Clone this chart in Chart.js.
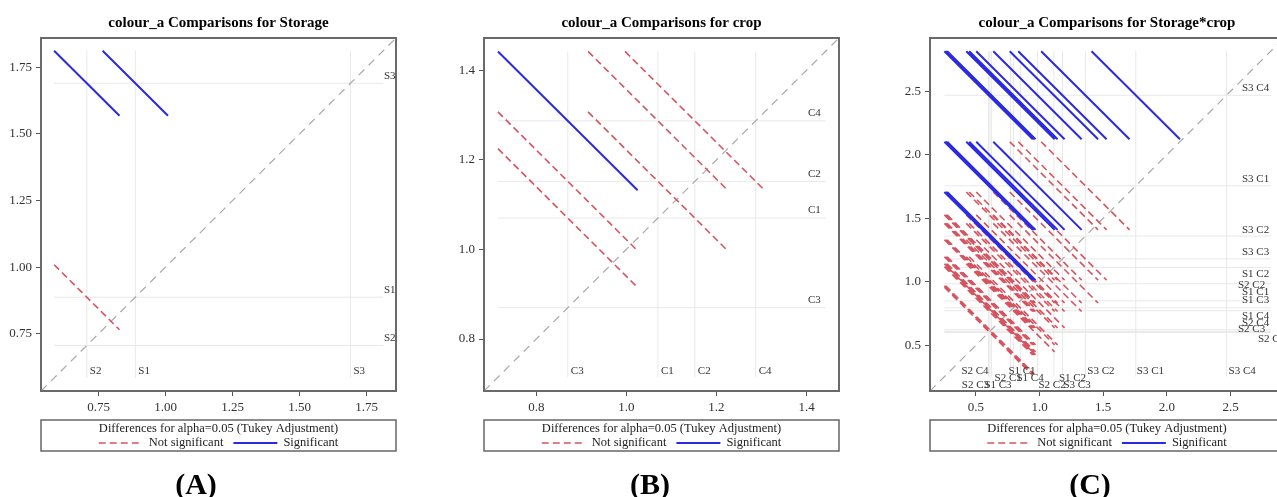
<!DOCTYPE html>
<html>
<head>
  <title>colour_a Comparisons</title>
  <script src="https://cdn.jsdelivr.net/npm/chart.js"></script>
  <style>
    body { margin: 0; width: 1277px; height: 497px; overflow: hidden; background: #fff; position: relative; }
    canvas { position: absolute; top: 0; }
    .cap { position: absolute; top: 467px; width: 100px; text-align: center; line-height: 32px;
           font: bold 30px "Liberation Serif", serif; color: #000; }
  </style>
</head>
<body>
  <canvas id="chartA" width="399" height="497" style="left:1px"></canvas>
  <canvas id="chartB" width="399" height="497" style="left:444px"></canvas>
  <canvas id="chartC" width="398" height="497" style="left:890px"></canvas>
  <div class="cap" style="left:146px">(A)</div>
  <div class="cap" style="left:600px">(B)</div>
  <div class="cap" style="left:1040px">(C)</div>

  <script>
    // Storage
    var storageLevels = ['S1', 'S2', 'S3'];
    var storageMeans = [0.887, 0.706, 1.690];
    var storageHalfWidth = 0.122;
    var storageAxis = [0.535, 1.86];
    var storageTicks = [0.75, 1.00, 1.25, 1.50, 1.75];

    // crop
    var cropLevels = ['C1', 'C2', 'C3', 'C4'];
    var cropMeans = [1.070, 1.152, 0.870, 1.287];
    var cropHalfWidth = 0.155;
    var cropAxis = [0.684, 1.472];
    var cropTicks = [0.8, 1.0, 1.2, 1.4];

    // Storage*crop
    var scLevels = ['S3 C4', 'S3 C1', 'S3 C2', 'S3 C3', 'S1 C2', 'S2 C2',
                    'S1 C1', 'S1 C3', 'S1 C4', 'S2 C4', 'S2 C3', 'S2 C1'];
    var scMeans = [2.469, 1.756, 1.360, 1.180, 1.113, 0.984,
                   0.850, 0.795, 0.772, 0.622, 0.610, 0.600];
    var scHalfWidth = 0.347;
    var scAxis = [0.14, 2.92];
    var scTicks = [0.5, 1.0, 1.5, 2.0, 2.5];

    // label placement for the crowded Storage*crop panel (pixel nudges)
    var scBottomDx = [2, 1, 2, 1, 5, 1, -12, -29, 6, -30, -28, 6];
    var scBottomRow = [0, 0, 0, 2, 1, 2, 0, 2, 1, 0, 2, 1];
    var scRightDx = [0, 0, 0, 0, 0, -4, 0, 0, 0, 0, -4, 16];
    var scRightDy = [-7, -7, -6, -7, 7, 1, -9, -8, 5, -7, -2, 7];

    var SERIF = '"Liberation Serif", "Times New Roman", serif';
    var RED = '#d4545f';
    var BLUE = '#2a2ae0';

    // one segment per pair, centred on (lower mean, higher mean), slope -1
    function pairSegments(means, h, significant) {
      var pts = [];
      for (var i = 0; i < means.length; i++) {
        for (var j = i + 1; j < means.length; j++) {
          var lo = Math.min(means[i], means[j]);
          var hi = Math.max(means[i], means[j]);
          var sig = (hi - lo) > 2 * h; // segment misses the diagonal
          if (sig !== significant) continue;
          pts.push({x: lo - h, y: hi + h}, {x: lo + h, y: hi - h}, {x: lo, y: null});
        }
      }
      return pts;
    }

    function referenceLines(means, h) {
      var lo = Math.min.apply(null, means) - h;
      var hi = Math.max.apply(null, means) + h;
      var pts = [];
      means.forEach(function(m) {
        pts.push({x: m, y: lo}, {x: m, y: hi}, {x: m, y: null});
        pts.push({x: lo, y: m}, {x: hi, y: m}, {x: lo, y: null});
      });
      return pts;
    }

    var levelLabels = {
      id: 'levelLabels',
      afterDatasetsDraw: function(chart, args, opts) {
        var ctx = chart.ctx, xs = chart.scales.x, ys = chart.scales.y, a = chart.chartArea;
        ctx.save();
        ctx.font = '11px ' + SERIF;
        ctx.fillStyle = '#333';
        ctx.textBaseline = 'middle';
        ctx.textAlign = 'left';
        opts.levels.forEach(function(name, i) {
          var m = opts.means[i];
          var bx = xs.getPixelForValue(m) + (opts.bottomDx ? opts.bottomDx[i] : 3);
          var row = opts.bottomRow ? opts.bottomRow[i] : 0;
          ctx.fillText(name, bx, a.bottom - 20 + row * 7);
          var rx = a.right + opts.rightX + (opts.rightDx ? opts.rightDx[i] : 0);
          var ry = ys.getPixelForValue(m) + (opts.rightDy ? opts.rightDy[i] : -7.5);
          ctx.fillText(name, rx, ry);
        });
        ctx.restore();
      }
    };

    var frameAndKey = {
      id: 'frameAndKey',
      afterDraw: function(chart, args, opts) {
        var ctx = chart.ctx, a = chart.chartArea;
        ctx.save();
        ctx.strokeStyle = '#6a6a6a';
        ctx.lineWidth = 2;
        ctx.strokeRect(a.left, a.top, a.right - a.left, a.bottom - a.top);

        var top = a.bottom + 29, h = 31;
        ctx.lineWidth = 1.5;
        ctx.strokeStyle = '#666';
        ctx.strokeRect(a.left, top, a.right - a.left, h);

        var cx = (a.left + a.right) / 2;
        ctx.font = '12.5px ' + SERIF;
        ctx.fillStyle = '#222';
        ctx.textBaseline = 'middle';
        ctx.textAlign = 'center';
        ctx.fillText(opts.title, cx, top + 9);

        var items = opts.order.map(function(name) {
          return chart.data.datasets.filter(function(d) { return d.label === name; })[0];
        });
        var sample = 44, gap = 6, between = 10;
        var total = 0;
        items.forEach(function(d, k) {
          total += sample + gap + ctx.measureText(d.label).width + (k ? between : 0);
        });
        var x = cx - total / 2, y = top + 23;
        ctx.textAlign = 'left';
        items.forEach(function(d, k) {
          if (k) x += between;
          ctx.strokeStyle = d.borderColor;
          ctx.lineWidth = d.borderWidth;
          ctx.setLineDash(d.borderDash || []);
          ctx.beginPath();
          ctx.moveTo(x, y);
          ctx.lineTo(x + sample, y);
          ctx.stroke();
          ctx.setLineDash([]);
          x += sample + gap;
          ctx.fillText(d.label, x, y);
          x += ctx.measureText(d.label).width;
        });
        ctx.restore();
      }
    };

    function makeChart(id, title, levels, means, h, axis, ticks, decimals, labelOpts) {
      var tickFont = {family: SERIF, size: 13};
      var scale = function(isX) {
        return {
          type: 'linear',
          min: axis[0],
          max: axis[1],
          afterBuildTicks: function(s) { s.ticks = ticks.map(function(v) { return {value: v}; }); },
          afterFit: function(s) { if (isX) s.height = 28; else s.width = 40; },
          grid: { drawOnChartArea: false, drawTicks: true, tickLength: 5, tickColor: '#555', tickWidth: 1 },
          border: { display: false },
          ticks: {
            font: tickFont, color: '#333', padding: 4, autoSkip: false, maxRotation: 0,
            callback: function(v) { return Number(v).toFixed(decimals); }
          }
        };
      };
      var line = {pointRadius: 0, tension: 0, spanGaps: false, fill: false};
      return new Chart(document.getElementById(id), {
        type: 'line',
        data: {
          datasets: [
            Object.assign({label: 'Significant', data: pairSegments(means, h, true),
              borderColor: BLUE, borderWidth: 2, order: 1}, line),
            Object.assign({label: 'Not significant', data: pairSegments(means, h, false),
              borderColor: RED, borderWidth: 1.6, borderDash: [7, 4], order: 2}, line),
            Object.assign({label: 'diagonal', data: [{x: axis[0], y: axis[0]}, {x: axis[1], y: axis[1]}],
              borderColor: '#a8a8a8', borderWidth: 1.2, borderDash: [8, 6], order: 3}, line),
            Object.assign({label: 'reference', data: referenceLines(means, h),
              borderColor: '#e8e8e8', borderWidth: 1, order: 4}, line)
          ]
        },
        options: {
          responsive: false,
          animation: false,
          events: [],
          layout: { padding: {top: 2, right: 4, bottom: 78, left: 0} },
          scales: { x: scale(true), y: scale(false) },
          plugins: {
            legend: { display: false },
            tooltip: { enabled: false },
            title: {
              display: true, text: title, fullSize: false, color: '#000',
              font: {family: SERIF, size: 15, weight: 'bold'},
              padding: {top: 12, bottom: 6}
            },
            levelLabels: Object.assign({levels: levels, means: means}, labelOpts),
            frameAndKey: {
              title: 'Differences for alpha=0.05 (Tukey Adjustment)',
              order: ['Not significant', 'Significant']
            }
          }
        },
        plugins: [levelLabels, frameAndKey]
      });
    }

    makeChart('chartA', 'colour_a Comparisons for Storage', storageLevels, storageMeans,
      storageHalfWidth, storageAxis, storageTicks, 2, {rightX: -12});
    makeChart('chartB', 'colour_a Comparisons for crop', cropLevels, cropMeans,
      cropHalfWidth, cropAxis, cropTicks, 1, {rightX: -31});
    makeChart('chartC', 'colour_a Comparisons for Storage*crop', scLevels, scMeans,
      scHalfWidth, scAxis, scTicks, 1,
      {rightX: -42, bottomDx: scBottomDx, bottomRow: scBottomRow, rightDx: scRightDx, rightDy: scRightDy});
  </script>
</body>
</html>
